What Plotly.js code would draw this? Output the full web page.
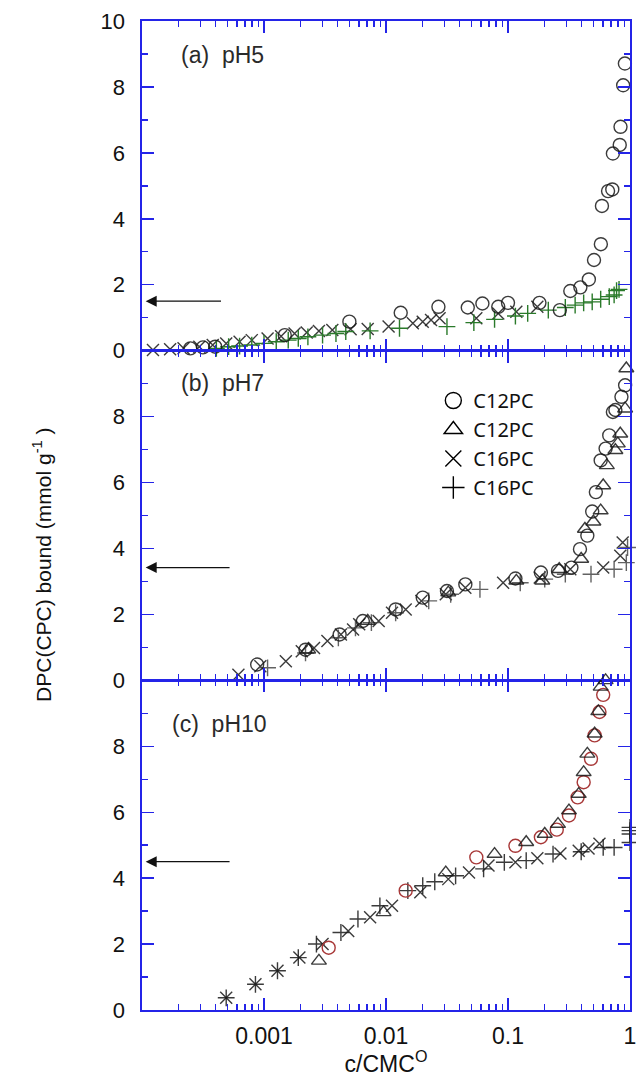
<!DOCTYPE html>
<html><head><meta charset="utf-8">
<script src="https://cdn.plot.ly/plotly-3.0.1.min.js"></script>
<style>html,body{margin:0;padding:0;background:#fff}#chart{width:636px;height:1077px}</style>
</head><body><div id="chart"></div><script>
// ---------- data (x = c/CMC°, y = mmol g^-1) ----------
// Panel (a) pH5
const aC12circ_x = [0.000249,0.000316,0.000398,0.00148,0.00501,0.0132,0.0269,0.0468,0.0617,0.0832,0.100,0.181,0.266,0.324,0.392,0.460,0.507,0.577,0.589,0.661,0.716,0.724,0.824,0.836,0.879,0.908];
const aC12circ_y = [0.07,0.10,0.12,0.47,0.88,1.15,1.33,1.31,1.43,1.33,1.45,1.45,1.23,1.81,1.92,2.16,2.75,3.23,4.39,4.84,4.89,5.98,6.24,6.79,8.05,8.71];
const aC16x_x = [0.000123,0.000170,0.000219,0.000295,0.000380,0.000490,0.000631,0.000794,0.00107,0.00138,0.00178,0.00224,0.00282,0.00363,0.00513,0.00708,0.0105,0.0166,0.0200,0.0234,0.0275,0.0550,0.0832,0.117,0.174];
const aC16x_y = [0.02,0.04,0.07,0.12,0.17,0.22,0.27,0.32,0.37,0.44,0.52,0.55,0.60,0.63,0.65,0.66,0.73,0.83,0.88,0.93,0.98,0.98,1.13,1.18,1.33];
const aC16p_x = [0.000407,0.000513,0.000631,0.000794,0.00100,0.00126,0.00158,0.00191,0.00229,0.00302,0.00389,0.00468,0.00741,0.0129,0.0316,0.0525,0.0776,0.115,0.145,0.214,0.295,0.355,0.417,0.490,0.575,0.676,0.741,0.776,0.813];
const aC16p_y = [0.07,0.12,0.14,0.17,0.22,0.27,0.32,0.37,0.42,0.47,0.52,0.58,0.60,0.68,0.73,0.85,0.95,1.05,1.13,1.23,1.31,1.38,1.45,1.48,1.56,1.64,1.69,1.82,1.86];

// Panel (b) pH7
const bC12circ_x = [0.000879,0.00219,0.00417,0.00646,0.0120,0.0200,0.0316,0.0447,0.115,0.186,0.257,0.331,0.389,0.447,0.490,0.525,0.575,0.631,0.676,0.724,0.759,0.851,0.912];
const bC12circ_y = [0.48,0.93,1.39,1.80,2.15,2.51,2.71,2.91,3.09,3.27,3.32,3.42,3.98,4.39,5.12,5.71,6.67,7.03,7.43,8.14,8.20,8.60,8.95];
const bC12tri_x = [0.00230,0.00708,0.0324,0.117,0.191,0.263,0.398,0.427,0.501,0.575,0.603,0.646,0.759,0.794,0.832,0.912,0.933];
const bC12tri_y = [0.93,1.80,2.66,3.02,3.02,3.37,3.68,4.59,4.81,5.15,5.91,6.52,6.98,7.18,7.48,8.24,9.46];
const bC16x_x = [0.000617,0.000933,0.00151,0.00204,0.00257,0.00331,0.00427,0.00537,0.00603,0.00871,0.0112,0.0145,0.0195,0.0309,0.0447,0.0912,0.182,0.324,0.603,0.832,0.871];
const bC16x_y = [0.17,0.43,0.58,0.88,0.98,1.19,1.39,1.54,1.70,1.80,2.05,2.15,2.41,2.61,2.81,2.96,3.12,3.37,3.42,3.78,4.18];
const bC16p_x = [0.00107,0.00219,0.00407,0.00562,0.00759,0.0120,0.0224,0.0339,0.0589,0.126,0.200,0.295,0.479,0.741,0.933,0.955];
const bC16p_y = [0.38,0.83,1.29,1.59,1.75,2.05,2.41,2.61,2.76,2.96,3.07,3.22,3.22,3.37,3.57,4.03];

// Panel (c) pH10
const cC12circ_x = [0.00339,0.0145,0.0550,0.115,0.186,0.251,0.316,0.372,0.417,0.479,0.513,0.562,0.603];
const cC12circ_y = [1.89,3.62,4.63,4.98,5.24,5.47,5.90,6.45,6.91,7.62,8.33,9.04,9.56];
const cC12tri_x = [0.00282,0.00955,0.0309,0.0776,0.141,0.200,0.257,0.316,0.380,0.417,0.447,0.513,0.550,0.575,0.631];
const cC12tri_y = [1.49,2.96,4.17,4.73,5.09,5.34,5.64,6.05,6.55,7.21,7.77,8.38,9.06,9.80,10.0];
const cC16x_x = [0.000490,0.000851,0.00129,0.00195,0.00302,0.00490,0.00741,0.0112,0.0191,0.0324,0.0479,0.0692,0.115,0.174,0.269,0.380,0.457,0.562];
const cC16x_y = [0.37,0.78,1.19,1.59,2.00,2.40,2.81,3.16,3.57,3.97,4.17,4.38,4.48,4.60,4.75,4.83,4.90,5.04];
const cC16p_x = [0.000490,0.000851,0.00129,0.00191,0.00269,0.00427,0.00589,0.00891,0.0151,0.0200,0.0251,0.0372,0.0631,0.0933,0.141,0.234,0.398,0.603,0.741,1.0,1.0,1.0,1.0];
const cC16p_y = [0.37,0.78,1.19,1.59,2.00,2.35,2.76,3.16,3.62,3.77,3.89,4.07,4.28,4.48,4.53,4.73,4.80,4.93,4.93,5.08,5.34,5.44,5.54];

// arrow levels (a, b, c)
const arrowLevels = [1.5, 3.42, 4.5];
const panelLabels = ['(a)\u00a0\u00a0pH5', '(b)\u00a0\u00a0pH7', '(c)\u00a0\u00a0pH10'];
const legendNames = ['C12PC', 'C12PC', 'C16PC', 'C16PC'];
const xTickVals = [0.001, 0.01, 0.1, 1];
const xTickText = ['0.001', '0.01', '0.1', '1'];

// ---------- styles ----------
const AX = '#2424e8';
const DARK = 'rgba(25,25,25,0.85)';
const GREEN = '#2a7a2a';
const RED = '#a83838';
const GREY = 'rgba(70,70,70,0.85)';
const FONT = 'Liberation Sans, Arial, sans-serif';

function mk(symbol, color, size) {
  return {symbol: symbol, size: size, color: color, line: {color: color, width: 1.4}};
}
const CIRC = 'circle-open', TRI = 'triangle-up-open', XS = 'x-thin-open', PL = 'cross-thin-open';

function tr(x, y, xa, ya, symbol, color, size) {
  return {type: 'scatter', mode: 'markers', x: x, y: y, xaxis: xa, yaxis: ya,
    marker: mk(symbol, color, size), showlegend: false, cliponaxis: false, hoverinfo: 'x+y'};
}

const traces = [
  tr(aC16x_x, aC16x_y, 'x', 'y', XS, DARK, 12),
  tr(aC16p_x, aC16p_y, 'x', 'y', PL, GREEN, 12),
  tr(aC12circ_x, aC12circ_y, 'x', 'y', CIRC, DARK, 13),

  tr(bC16x_x, bC16x_y, 'x2', 'y2', XS, DARK, 12),
  tr(bC16p_x, bC16p_y, 'x2', 'y2', PL, GREY, 12),
  tr(bC12circ_x, bC12circ_y, 'x2', 'y2', CIRC, DARK, 13),
  tr(bC12tri_x, bC12tri_y, 'x2', 'y2', TRI, DARK, 13),

  tr(cC16x_x, cC16x_y, 'x3', 'y3', XS, DARK, 12),
  tr(cC16p_x, cC16p_y, 'x3', 'y3', PL, DARK, 12),
  tr(cC12circ_x, cC12circ_y, 'x3', 'y3', CIRC, RED, 13),
  tr(cC12tri_x, cC12tri_y, 'x3', 'y3', TRI, DARK, 13)
];

// legend-only entries
const legSyms = [CIRC, TRI, XS, PL];
legSyms.forEach(function (s, i) {
  traces.push({type: 'scatter', mode: 'markers', x: [null], y: [null], xaxis: 'x2', yaxis: 'y2',
    name: legendNames[i], marker: mk(s, '#000', 16), showlegend: true});
});

// minor log ticks
const xMinor = [];
for (let d = -4; d < 0; d++) for (let k = 2; k <= 9; k++) xMinor.push(k * Math.pow(10, d));

function xAxis(anchor, labels) {
  return {type: 'log', range: [-4, 0], anchor: anchor, showline: true, linecolor: AX, linewidth: 1.6,
    mirror: 'ticks', ticks: 'inside', ticklen: 12, tickwidth: 1.4, tickcolor: AX,
    tickmode: 'array', tickvals: xTickVals, ticktext: xTickText, showticklabels: labels,
    ticklabeloverflow: 'allow',
    minor: {tickmode: 'array', tickvals: xMinor, ticks: 'inside', ticklen: 6, tickwidth: 1.4, tickcolor: AX, showgrid: false},
    showgrid: false, zeroline: false, tickfont: {family: FONT, size: 23, color: '#111'}, ticklabelstandoff: 5};
}
function yAxis(domain, anchor, top) {
  return {domain: domain, range: [0, 10], anchor: anchor, showline: true, linecolor: AX, linewidth: 1.6,
    mirror: 'ticks', ticks: 'inside', ticklen: 12, tickwidth: 1.4, tickcolor: AX,
    tickmode: 'array', tickvals: top ? [0, 2, 4, 6, 8, 10] : [0, 2, 4, 6, 8],
    ticklabeloverflow: 'allow',
    minor: {tickmode: 'array', tickvals: [1, 3, 5, 7, 9], ticks: 'inside', ticklen: 6, tickwidth: 1.4, tickcolor: AX, showgrid: false},
    showgrid: false, zeroline: false, tickfont: {family: FONT, size: 22, color: '#111'}, ticklabelstandoff: 11};
}

const xa3 = xAxis('y3', true);
xa3.title = {text: 'c/CMC<sup>O</sup>', font: {family: FONT, size: 23, color: '#111'}, standoff: 0};

const annotations = [];
const refs = [['x', 'y'], ['x2', 'y2'], ['x3', 'y3']];
const labelPos = [[0.0757, 0.9654], [0.0757, 0.634], [0.057, 0.2896]];
for (let i = 0; i < 3; i++) {
  annotations.push({xref: 'paper', yref: 'paper', x: labelPos[i][0], y: labelPos[i][1], xanchor: 'left', yanchor: 'middle',
    text: panelLabels[i], showarrow: false, font: {family: FONT, size: 23, color: '#2a2a2a'}});
  annotations.push({xref: refs[i][0], yref: refs[i][1], axref: refs[i][0], ayref: refs[i][1],
    x: -3.97, y: arrowLevels[i], ax: i === 0 ? -3.34 : -3.27, ay: arrowLevels[i], text: '',
    showarrow: true, arrowhead: 2, arrowsize: 1.7, arrowwidth: 1.3, arrowcolor: '#111'});
}
annotations.push({xref: 'paper', yref: 'paper', x: -0.205, y: 0.45, xanchor: 'center', yanchor: 'middle', textangle: -90,
  text: 'DPC(CPC) bound (mmol g<sup>-1</sup> )', showarrow: false,
  font: {family: FONT, size: 21, color: '#111'}});

const layout = {
  width: 636, height: 1077, paper_bgcolor: '#fff', plot_bgcolor: '#fff',
  margin: {l: 141.5, r: 6, t: 20.5, b: 66.5},
  showlegend: true,
  legend: {x: 0.597, y: 0.636, xanchor: 'left', yanchor: 'top', bgcolor: 'rgba(0,0,0,0)',
    font: {family: 'Noto Sans, sans-serif', size: 20, color: '#111'}, traceorder: 'normal', itemwidth: 30},
  xaxis: xAxis('y', false), xaxis2: xAxis('y2', false), xaxis3: xa3,
  yaxis: yAxis([2 / 3, 1], 'x', true), yaxis2: yAxis([1 / 3, 2 / 3], 'x2', false), yaxis3: yAxis([0, 1 / 3], 'x3', false),
  annotations: annotations
};

Plotly.newPlot('chart', traces, layout, {staticPlot: true});
</script></body></html>
